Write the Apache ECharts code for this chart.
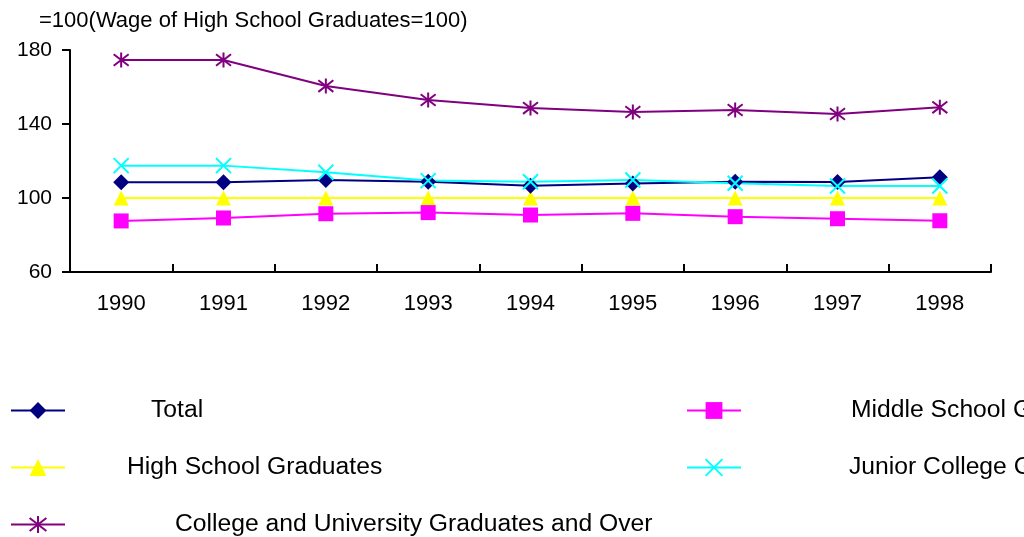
<!DOCTYPE html>
<html>
<head>
<meta charset="utf-8">
<script src="https://cdn.jsdelivr.net/npm/echarts@6/dist/echarts.min.js"></script>
<style>
html,body{margin:0;padding:0;background:#fff;}
#main{width:1024px;height:537px;}
</style>
</head>
<body>
<div id="main"></div>
<script>
var years = ['1990','1991','1992','1993','1994','1995','1996','1997','1998'];
var yTicks = [60, 100, 140, 180];
var titleText = '=100(Wage of High School Graduates=100)';

var total = [108.5, 108.5, 109.7, 108.8, 106.6, 107.9, 108.8, 108.7, 111.2];
var middleSchool = [87.6, 89.2, 91.5, 92.1, 90.8, 91.7, 89.9, 88.8, 87.7];
var highSchool = [100, 100, 100, 100, 100, 100, 100, 100, 100];
var juniorCollege = [117.5, 117.5, 113.9, 109.4, 108.8, 109.7, 108.0, 106.5, 106.5];
var college = [174.6, 174.6, 160.5, 153.0, 148.6, 146.5, 147.6, 145.4, 149.0];

var FONT = 'Arial, "Liberation Sans", sans-serif';
var asterisk = 'path://M0,0L10,10M10,0L0,10M5,-1.5L5,11.5';
var cross = 'path://M0,0L10,10M10,0L0,10';

function mkSeries(name, data, color, symbol, size, isStroke) {
  return {
    name: name, type: 'line', data: data,
    symbol: symbol, symbolSize: size,
    lineStyle: {color: color, width: 2},
    itemStyle: isStroke ? {color: 'rgba(0,0,0,0)', borderColor: color, borderWidth: 2} : {color: color, borderWidth: 0},
    emphasis: {disabled: true},
    animation: false
  };
}

var chart = echarts.init(document.getElementById('main'));

function leg(name, left, top, pad) {
  return {
    data: [name], left: left, top: top, orient: 'horizontal',
    itemWidth: 54, itemHeight: 21, padding: 0,
    lineStyle: {width: 2},
    textStyle: {fontFamily: FONT, fontSize: 24.7, color: '#000', padding: [0, 0, 0, pad]},
    selectedMode: false
  };
}

chart.setOption({
  backgroundColor: '#fff',
  title: {
    text: titleText, left: 39, top: 10, padding: 0,
    textStyle: {fontFamily: FONT, fontSize: 22, fontWeight: 'normal', color: '#000'}
  },
  legend: [
    leg('Total', 10, 398, 81),
    leg('Middle School Graduates', 686, 398, 105),
    leg('High School Graduates', 10, 455, 57),
    leg('Junior College Graduates', 686, 455, 103),
    leg('College and University Graduates and Over', 10, 512, 105)
  ],
  grid: {left: 70, right: 33, top: 50, bottom: 265, containLabel: false},
  xAxis: {
    type: 'category', data: years, boundaryGap: true,
    axisLine: {show: true, lineStyle: {color: '#000', width: 2}},
    axisTick: {show: true, inside: true, length: 8, interval: 0, alignWithLabel: false, lineStyle: {color: '#000', width: 2}},
    axisLabel: {fontFamily: FONT, fontSize: 22, color: '#000', margin: 21},
    splitLine: {show: false}
  },
  yAxis: {
    type: 'value', min: yTicks[0], max: yTicks[yTicks.length - 1], interval: 40,
    axisLine: {show: true, lineStyle: {color: '#000', width: 2}},
    axisTick: {show: true, inside: false, length: 8, lineStyle: {color: '#000', width: 2}},
    axisLabel: {fontFamily: FONT, fontSize: 21, color: '#000', margin: 18},
    splitLine: {show: false}
  },
  series: [
    mkSeries('High School Graduates', highSchool, '#FFFF00', 'triangle', 15, false),
    mkSeries('Middle School Graduates', middleSchool, '#FF00FF', 'rect', 15, false),
    mkSeries('College and University Graduates and Over', college, '#800080', asterisk, 15, true),
    mkSeries('Total', total, '#000080', 'diamond', 16, false),
    mkSeries('Junior College Graduates', juniorCollege, '#00FFFF', cross, 15, true)
  ]
});
</script>
</body>
</html>
